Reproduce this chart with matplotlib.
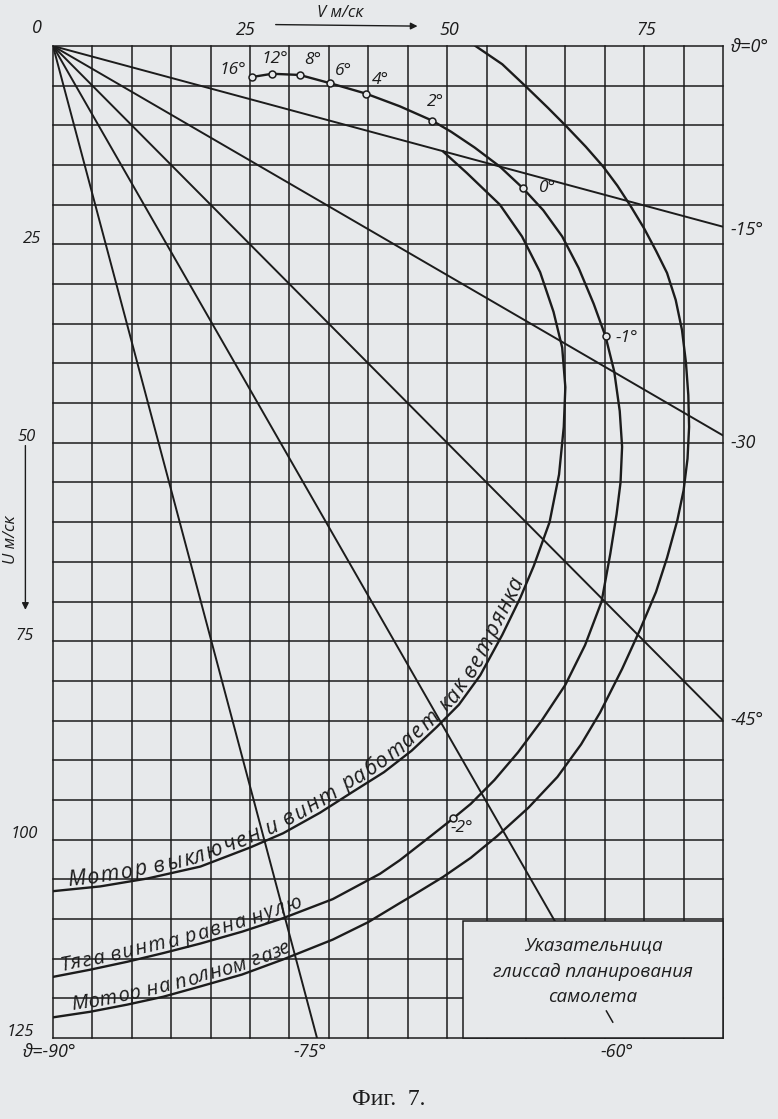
import numpy as np
import matplotlib
matplotlib.use("Agg")
import matplotlib.pyplot as plt
from matplotlib.patches import Rectangle
from matplotlib.font_manager import FontProperties

# glide polars: V = horizontal speed, U = sink speed (m/s)
windmill_v = [49.5, 52.5, 56.7, 59.5, 61.8, 63.5, 64.6, 65.0, 64.8, 64.2,
              63.0, 61.0, 59.3, 57.0, 54.2, 51.5, 48.7, 45.5, 42.0, 38.0,
              33.9, 29.2, 25.0, 18.7, 12.0, 6.0, 0.0]
windmill_u = [13.3, 16.0, 20.0, 24.0, 28.5, 33.5, 38.0, 43.0, 48.0, 54.0,
              60.0, 65.5, 69.5, 74.2, 79.3, 83.0, 85.8, 88.8, 91.5, 94.0,
              96.6, 99.2, 101.0, 103.4, 104.9, 105.9, 106.5]

zero_v = [25.3, 27.8, 31.3, 35.2, 39.7, 44.0, 48.1, 50.5, 53.5, 56.7,
          59.6, 62.2, 64.6, 66.7, 68.6, 70.1, 71.2, 71.9, 72.2, 72.0,
          71.5, 70.7, 69.6, 67.5, 65.0, 62.0, 59.0, 56.0, 53.0, 50.8,
          48.0, 44.0, 41.5, 35.5, 29.2, 24.0, 18.7, 14.0, 9.4, 4.7, 0.0]
zero_u = [3.9, 3.5, 3.65, 4.7, 6.0, 7.6, 9.4, 10.8, 12.8, 15.2,
          17.9, 20.7, 24.0, 28.0, 32.5, 36.6, 41.0, 46.0, 50.5, 55.0,
          59.0, 64.0, 70.0, 75.5, 80.5, 85.0, 89.0, 92.5, 95.5, 97.3,
          99.5, 102.6, 104.3, 107.5, 109.9, 111.6, 113.1, 114.3, 115.4, 116.4, 117.3]

full_v = [53.6, 57.0, 60.2, 62.8, 65.2, 67.6, 69.8, 71.6, 73.3, 75.0,
          76.5, 77.9, 79.0, 79.8, 80.3, 80.6, 80.7, 80.5, 80.0, 79.2,
          77.9, 76.5, 74.5, 72.2, 69.4, 67.0, 64.0, 60.3, 56.3, 53.0,
          49.5, 45.7, 44.0, 40.0, 35.5, 29.2, 24.0, 18.7, 14.0, 9.4, 4.7, 0.0]
full_u = [0.0, 2.3, 5.3, 7.8, 10.2, 12.7, 15.2, 17.6, 20.2, 23.0,
          25.8, 28.6, 32.0, 35.8, 39.9, 44.0, 48.0, 52.0, 56.0, 59.8,
          64.5, 68.8, 73.5, 78.5, 84.0, 88.0, 92.1, 96.0, 99.6, 102.3,
          104.7, 107.0, 108.0, 110.4, 112.6, 115.1, 117.0, 118.5, 119.8, 120.8, 121.7, 122.4]

# angle-of-attack points on the zero-thrust polar
aoa_labels = ["16°", "12°", "8°", "6°", "4°", "2°", "0°", "-1°", "-2°"]
aoa_v = [25.3, 27.8, 31.3, 35.2, 39.7, 48.1, 59.6, 70.1, 50.8]
aoa_u = [3.9, 3.5, 3.65, 4.7, 6.0, 9.4, 17.9, 36.6, 97.3]

ray_angles = [-15, -30, -45, -60, -75]
v_ticks = [0, 25, 50, 75]
u_ticks = [25, 50, 75, 100, 125]

V_MAX, U_MAX = 85, 125
BG = "#e7e9eb"
INK = "#1c1c1c"
FONT = ["Open Sans", "DejaVu Sans"]


def curve_text(ax, vs, us, text, v_from, v_to, size, lift=4.0):
    # lay the text out letter by letter along the lower branch of a polar
    r = ax.figure.canvas.get_renderer()
    vs = np.asarray(vs)[::-1]
    us = np.asarray(us)[::-1]
    n = int(np.argmax(vs)) + 1
    pts = ax.transData.transform(np.column_stack([vs[:n], us[:n]]))
    d = np.concatenate([[0], np.cumsum(np.hypot(*np.diff(pts, axis=0).T))])
    d0 = np.interp(v_from, vs[:n], d)
    d1 = np.interp(v_to, vs[:n], d)
    prop = FontProperties(family=FONT, style="italic", size=size)
    ref = r.get_text_width_height_descent("||", prop, ismath=False)[0]
    w = np.array([r.get_text_width_height_descent("|" + c + "|", prop, ismath=False)[0] - ref
                  for c in text])
    pos = d0 + (np.cumsum(w) - w / 2) * (d1 - d0) / w.sum()
    inv = ax.transData.inverted()
    for c, p in zip(text, pos):
        x = np.interp(p, d, pts[:, 0])
        y = np.interp(p, d, pts[:, 1])
        xa, ya = np.interp(p - 6, d, pts[:, 0]), np.interp(p - 6, d, pts[:, 1])
        xb, yb = np.interp(p + 6, d, pts[:, 0]), np.interp(p + 6, d, pts[:, 1])
        ang = np.arctan2(yb - ya, xb - xa)
        x -= np.sin(ang) * lift
        y += np.cos(ang) * lift
        xd, yd = inv.transform((x, y))
        ax.text(xd, yd, c, rotation=np.degrees(ang), rotation_mode="anchor",
                ha="center", va="baseline", fontproperties=prop, color=INK,
                clip_on=False, zorder=6)


fig = plt.figure(figsize=(7.78, 11.19), dpi=100, facecolor=BG)
ax = fig.add_axes([0.0681, 0.0724, 0.8612, 0.8865])
ax.set_facecolor(BG)
ax.set_xlim(0, V_MAX)
ax.set_ylim(U_MAX, 0)
ax.set_xticks([])
ax.set_yticks([])
for s in ax.spines.values():
    s.set_visible(False)

# grid, every 5 m/s
for v in range(0, V_MAX + 1, 5):
    ax.plot([v, v], [0, U_MAX], color=INK, lw=1.1, clip_on=False, zorder=1)
for u in range(0, U_MAX + 1, 5):
    ax.plot([0, V_MAX], [u, u], color=INK, lw=1.1, clip_on=False, zorder=1)

# glide angle rays from the origin
for a in ray_angles:
    t = np.radians(-a)
    L = min(V_MAX / np.cos(t), U_MAX / np.sin(t))
    ax.plot([0, L * np.cos(t)], [0, L * np.sin(t)], color=INK, lw=1.4, zorder=2)

# polars
ax.plot(windmill_v, windmill_u, color=INK, lw=1.7, zorder=3)
ax.plot(zero_v, zero_u, color=INK, lw=1.7, zorder=3)
ax.plot(full_v, full_u, color=INK, lw=1.7, zorder=3)
ax.plot(aoa_v, aoa_u, "o", ms=5, mfc=BG, mec=INK, mew=1.1, zorder=4)

lab = dict(family=FONT, style="italic", color=INK)
aoa_pos = [(22.8, 3.0), (28.2, 1.6), (32.9, 1.8), (36.8, 3.1), (41.5, 4.3),
           (48.5, 7.0), (62.8, 17.9), (72.8, 36.8), (51.9, 98.6)]
for t_, (x, y) in zip(aoa_labels, aoa_pos):
    ax.text(x, y, t_, fontsize=12.5, ha="center", va="center", zorder=5, **lab)

# title box
ax.add_patch(Rectangle((52.0, 110.3), V_MAX - 52.0, U_MAX - 110.3, facecolor=BG,
                       edgecolor=INK, lw=1.1, zorder=5, clip_on=False))
t60 = np.radians(60)
ax.plot([121.6 / np.tan(t60), 123.0 / np.tan(t60)], [121.6, 123.0], color=INK, lw=1.1, zorder=6)
for txt, y in [("Указательница", 113.4), ("глиссад планирования", 116.7), ("самолета", 119.8)]:
    ax.text(68.5, y, txt, fontsize=13.5, ha="center", va="center", zorder=6, **lab)

# axis numbers
ax.text(-2.0, -2.3, "0", fontsize=13, ha="center", va="center", clip_on=False, **lab)
for v in v_ticks[1:]:
    ax.text(v - 0.6 if v == 25 else v + 0.3, -2.0, str(v), fontsize=13, ha="center", va="center",
            clip_on=False, **lab)
for u, x in zip(u_ticks, [-2.7, -3.3, -3.6, -3.6, -4.2]):
    ax.text(x, u - 0.7, str(u), fontsize=12, ha="center", va="center", clip_on=False, **lab)

ax.text(36.4, -4.1, "V м/ск", fontsize=12, ha="center", va="center", clip_on=False, **lab)
ax.annotate("", xy=(46.6, -2.5), xytext=(27.9, -2.7), annotation_clip=False,
            arrowprops=dict(arrowstyle="-|>", color=INK, lw=1.0, mutation_scale=10))
ax.text(-5.3, 62.2, "U м/ск", fontsize=12, rotation=90, ha="center", va="center",
        clip_on=False, **lab)
ax.annotate("", xy=(-3.5, 71.4), xytext=(-3.5, 50.0), annotation_clip=False,
            arrowprops=dict(arrowstyle="-|>", color=INK, lw=1.0, mutation_scale=10))

# ray labels
ax.text(86.0, 0.1, "ϑ=0°", fontsize=13, ha="left", va="center", clip_on=False, **lab)
ax.text(86.0, 23.2, "-15°", fontsize=13, ha="left", va="center", clip_on=False, **lab)
ax.text(86.0, 50.0, "-30", fontsize=13, ha="left", va="center", clip_on=False, **lab)
ax.text(86.0, 84.9, "-45°", fontsize=13, ha="left", va="center", clip_on=False, **lab)
ax.text(71.6, 126.8, "-60°", fontsize=13, ha="center", va="center", clip_on=False, **lab)
ax.text(32.6, 126.8, "-75°", fontsize=13, ha="center", va="center", clip_on=False, **lab)
ax.text(-0.4, 126.8, "ϑ=-90°", fontsize=13, ha="center", va="center", clip_on=False, **lab)

fig.canvas.draw()
curve_text(ax, windmill_v, windmill_u, "Мотор выключен и винт работает как ветрянка", 1.8, 60.2, 15.5)
curve_text(ax, zero_v, zero_u, "Тяга винта равна нулю", 1.0, 32.0, 14.5)
curve_text(ax, full_v, full_u, "Мотор на полном газе", 2.4, 30.5, 14.5)

fig.text(0.5, 0.017, "Фиг.  7.", fontsize=17, family="Liberation Serif", ha="center",
         va="center", color=INK)

fig.savefig("out.png", dpi=100, facecolor=BG)
